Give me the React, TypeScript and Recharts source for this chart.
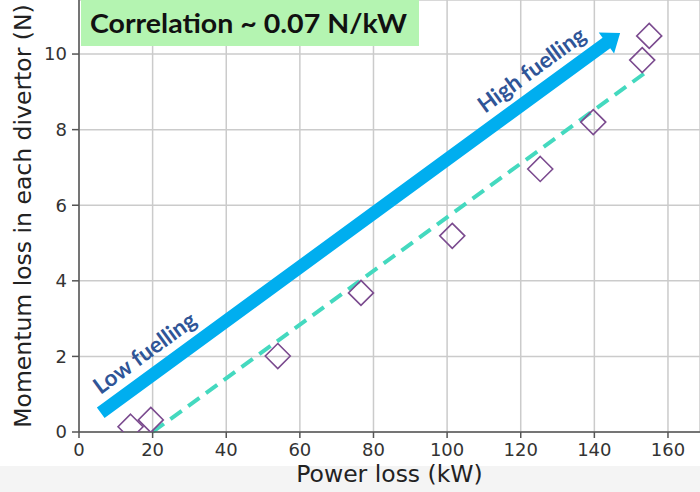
import React from 'react';
import {
    ScatterChart,
    Scatter,
    XAxis,
    YAxis,
    CartesianGrid,
    ReferenceLine,
    Label,
} from 'recharts';

// measured points: power loss (kW) vs momentum loss per divertor (N)
const powerLoss = [14, 19.5, 54, 76.6, 101.4, 125.3, 139.7, 153, 154.9];
const momentumLoss = [0.14, 0.32, 2.01, 3.68, 5.19, 6.96, 8.2, 9.84, 10.48];

const xTicks = [0, 20, 40, 60, 80, 100, 120, 140, 160];
const yTicks = [0, 2, 4, 6, 8, 10];

// dashed linear fit
const fitLine = [
    { x: 20, y: 0 },
    { x: 154.6, y: 9.56 },
];

// fuelling arrow (low -> high)
const fuellingArrow = [
    { x: 5.9, y: 0.51 },
    { x: 147, y: 10.56 },
];

const correlationText = 'Correlation ~ 0.07 N/kW';

const points = powerLoss.map((x, i) => ({ x, y: momentumLoss[i] }));

const Diamond = (props: any) => {
    const { cx, cy } = props;
    const r = 12.5;
    return (
        <polygon
            points={`${cx},${cy - r} ${cx + r},${cy} ${cx},${cy + r} ${cx - r},${cy}`}
            fill="none"
            stroke="#7b4b8f"
            strokeWidth={1.6}
        />
    );
};

const FuellingArrow = (props: any) => {
    const { x1, y1, x2, y2 } = props;
    const dx = x2 - x1;
    const dy = y2 - y1;
    const len = Math.hypot(dx, dy);
    const ux = dx / len;
    const uy = dy / len;
    // unit normal pointing to the lower-right side of the arrow
    const nx = -uy;
    const ny = ux;
    const shaft = 6.5;
    const headLen = 17;
    const headHalf = 13;
    const bx = x2 - ux * headLen;
    const by = y2 - uy * headLen;
    const pts = [
        [x1 + nx * shaft, y1 + ny * shaft],
        [bx + nx * shaft, by + ny * shaft],
        [bx + nx * headHalf, by + ny * headHalf],
        [x2, y2],
        [bx - nx * headHalf, by - ny * headHalf],
        [bx - nx * shaft, by - ny * shaft],
        [x1 - nx * shaft, y1 - ny * shaft],
    ]
        .map((p) => `${p[0]},${p[1]}`)
        .join(' ');
    const angle = (Math.atan2(dy, dx) * 180) / Math.PI;
    const labelAt = (t: number) => ({
        x: x1 + dx * t - nx * 23,
        y: y1 + dy * t - ny * 23,
    });
    const low = labelAt(0.11);
    const high = labelAt(0.855);
    const textStyle = {
        fill: '#2f5597',
        fontFamily: 'Lato',
        fontWeight: 700,
        fontSize: 22.5,
    };
    return (
        <g>
            <polygon points={pts} fill="#00aeef" />
            <text
                x={low.x}
                y={low.y}
                transform={`rotate(${angle}, ${low.x}, ${low.y})`}
                textAnchor="middle"
                dominantBaseline="central"
                style={textStyle}
            >
                Low fuelling
            </text>
            <text
                x={high.x}
                y={high.y}
                transform={`rotate(${angle}, ${high.x}, ${high.y})`}
                textAnchor="middle"
                dominantBaseline="central"
                style={textStyle}
            >
                High fuelling
            </text>
        </g>
    );
};

const YTitle = ({ viewBox }: any) => {
    const cy = viewBox ? viewBox.y + viewBox.height / 2 : 216;
    return (
        <text
            x={31}
            y={cy}
            transform={`rotate(-90, 31, ${cy})`}
            textAnchor="middle"
            fill="#222"
            fontSize={23.5}
            fontFamily="DejaVu Sans"
        >
            Momentum loss in each divertor (N)
        </text>
    );
};

const tickStyle = { fill: '#333', fontSize: 18, fontFamily: 'DejaVu Sans' };
const axisStroke = { stroke: '#555', strokeWidth: 1.5 };

export default function App() {
    return (
        <div
            style={{
                position: 'relative',
                width: 700,
                height: 492,
                background: 'linear-gradient(to bottom, #fff 0, #fff 466px, #f4f4f4 466px)',
            }}
        >
            <style>{'body { margin: 0; }'}</style>
            <ScatterChart width={700} height={492} margin={{ top: 0, right: 0, bottom: 0, left: 0 }}>
                <CartesianGrid stroke="#cbcbcb" strokeWidth={1.5} />
                <XAxis
                    type="number"
                    dataKey="x"
                    domain={[0, 168.7]}
                    ticks={xTicks}
                    allowDataOverflow
                    height={60}
                    axisLine={axisStroke}
                    tickLine={axisStroke}
                    tickSize={6}
                    tickMargin={5}
                    tick={tickStyle}
                >
                    <Label
                        value="Power loss (kW)"
                        position="insideBottom"
                        offset={10}
                        fill="#222"
                        fontSize={23.5}
                        fontFamily="DejaVu Sans"
                    />
                </XAxis>
                <YAxis
                    type="number"
                    dataKey="y"
                    domain={[0, 11.43]}
                    ticks={yTicks}
                    allowDataOverflow
                    width={79}
                    axisLine={axisStroke}
                    tickLine={axisStroke}
                    tickSize={7}
                    tickMargin={5}
                    tick={tickStyle}
                >
                    <Label content={<YTitle />} />
                </YAxis>
                <ReferenceLine segment={fuellingArrow} shape={FuellingArrow} ifOverflow="visible" />
                <ReferenceLine
                    segment={fitLine}
                    stroke="#44d9bf"
                    strokeWidth={4}
                    strokeDasharray="14 8"
                    ifOverflow="visible"
                />
                <Scatter data={points} shape={Diamond} isAnimationActive={false} />
            </ScatterChart>
            <svg
                width={700}
                height={50}
                style={{ position: 'absolute', left: 0, top: 0, pointerEvents: 'none' }}
            >
                <rect x={81} y={0} width={338} height={46} fill="#b4f4b1" />
                <text
                    x={90}
                    y={33}
                    fill="#111"
                    fontFamily="Lato"
                    fontWeight={700}
                    fontSize={26}
                    textLength={317}
                    lengthAdjust="spacingAndGlyphs"
                >
                    {correlationText}
                </text>
            </svg>
        </div>
    );
}
